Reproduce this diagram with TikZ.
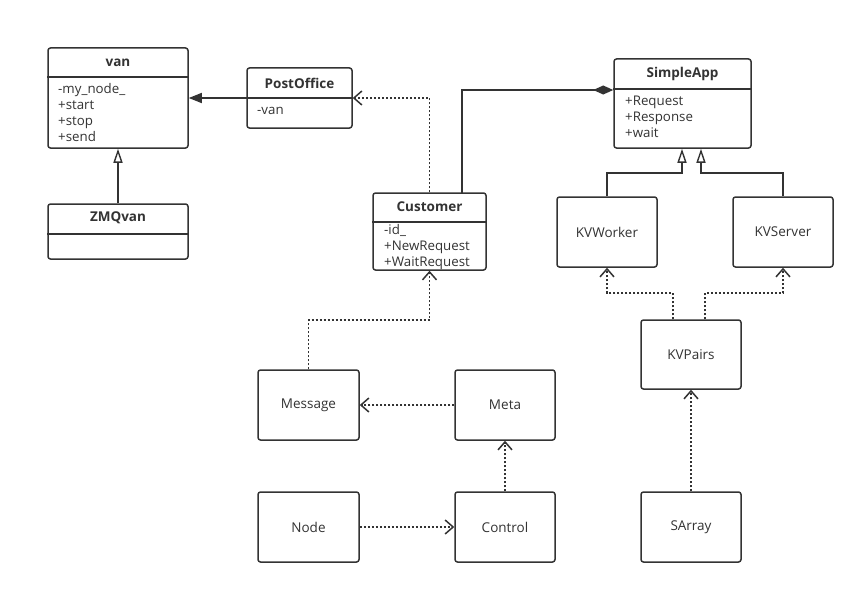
\documentclass[tikz,border=0pt]{standalone}
\usepackage{fontspec}
\setmainfont{Open Sans}
\usetikzlibrary{arrows.meta}
\definecolor{ink}{HTML}{333333}
\tikzset{
  box/.style={draw=ink, line width=1.5pt, rounded corners=2.5pt, inner sep=0pt},
  ttl/.style={font=\fontsize{13.5}{15}\selectfont\bfseries, text=ink},
  lbl/.style={font=\fontsize{13.5}{15}\selectfont, text=ink},
  attrs/.style={font=\fontsize{13.3}{16}\selectfont, text=ink, align=left, anchor=north west, inner sep=0pt},
  sep/.style={draw=ink, line width=1.5pt},
  conn/.style={draw=ink, line width=1.5pt},
  dep/.style={conn, line width=1.8pt, dash pattern=on 2pt off 2pt, -{Straight Barb[length=8pt,width=14pt,line width=1.5pt]}},
  inh/.style={conn, -{Triangle[open,length=14pt,width=9pt,line width=1.4pt]}},
  assoc/.style={conn, -{Triangle[length=13pt,width=10pt]}},
  comp/.style={conn, -{Diamond[length=20pt,width=9pt]}},
}
\begin{document}
\begin{tikzpicture}[x=1pt,y=-1pt]
\useasboundingbox[fill=white] (0,0) rectangle (865,594);
% van
\node[box, minimum width=140pt, minimum height=100pt] (van) at (118,98) {};
\draw[sep] (van.west |- 0,77) -- (van.east |- 0,77);
\node[ttl] (vant) at (118,63) {van};
\node[attrs] (vana) at (58,83) {-my\_node\_\\+start\\+stop\\+send};
% ZMQvan
\node[box, minimum width=140pt, minimum height=55pt] (zmq) at (118,231.5) {};
\draw[sep] (zmq.west |- 0,234) -- (zmq.east |- 0,234);
\node[ttl] (zmqt) at (118,218) {ZMQvan};
% PostOffice
\node[box, minimum width=105pt, minimum height=60pt] (post) at (299.5,98) {};
\draw[sep] (post.west |- 0,98) -- (post.east |- 0,98);
\node[ttl] (postt) at (299.5,83) {PostOffice};
\node[attrs] (posta) at (257,107) {-van};
% Customer
\node[box, minimum width=113pt, minimum height=77pt] (cust) at (429.5,231.5) {};
\draw[sep] (cust.west |- 0,222) -- (cust.east |- 0,222);
\node[ttl] (custt) at (429.5,207) {Customer};
\node[attrs] (custa) at (384,224) {-id\_\\+NewRequest\\+WaitRequest};
% SimpleApp
\node[box, minimum width=137pt, minimum height=89pt] (sapp) at (682.5,103.5) {};
\draw[sep] (sapp.west |- 0,89) -- (sapp.east |- 0,89);
\node[ttl] (sappt) at (682.5,74) {SimpleApp};
\node[attrs] (sappa) at (625,96) {+Request\\+Response\\+wait};
% plain boxes
\node[box, minimum width=100pt, minimum height=70pt, lbl] (kvw) at (607,232) {KVWorker};
\node[box, minimum width=100pt, minimum height=70pt, lbl] (kvs) at (783,232) {KVServer};
\node[box, minimum width=100pt, minimum height=69pt, lbl] (kvp) at (691,354.5) {KVPairs};
\node[box, minimum width=101pt, minimum height=70pt, lbl] (msg) at (308.5,405) {Message};
\node[box, minimum width=100pt, minimum height=70pt, lbl] (meta) at (505,405) {Meta};
\node[box, minimum width=101pt, minimum height=70pt, lbl] (nodeb) at (308.5,527) {Node};
\node[box, minimum width=100pt, minimum height=70pt, lbl] (ctrl) at (505,527) {Control};
\node[box, minimum width=100pt, minimum height=70pt, lbl] (sarr) at (691,527) {SArray};
% connectors
\draw[assoc] (post.west) -- (post.west -| van.east);
\draw[inh] (zmq.north) -- (van.south);
\draw[dep] (cust.north) |- (post.east);
\coordinate (cjoin) at (462,193);
\draw[comp] (cjoin) |- (sapp.west |- 0,90);
\coordinate (kvwj) at (682,173);
\coordinate (kvsj) at (701,173);
\draw[inh] (kvw.north) |- (kvwj) -- (kvwj |- sapp.south);
\draw[inh] (kvs.north) |- (kvsj) -- (kvsj |- sapp.south);
\coordinate (kvpl) at (673,293);
\coordinate (kvpr) at (705,293);
\draw[dep] (kvpl |- kvp.north) -- (kvpl) -| (kvw.south);
\draw[dep] (kvpr |- kvp.north) -- (kvpr) -| (kvs.south);
\draw[dep] (msg.north) -- ++(0,-49) -| (cust.south);
\draw[dep] (meta.west) -- (msg.east);
\draw[dep] (ctrl.north) -- (meta.south);
\draw[dep] (nodeb.east) -- (ctrl.west);
\draw[dep] (sarr.north) -- (kvp.south);
\end{tikzpicture}
\end{document}
